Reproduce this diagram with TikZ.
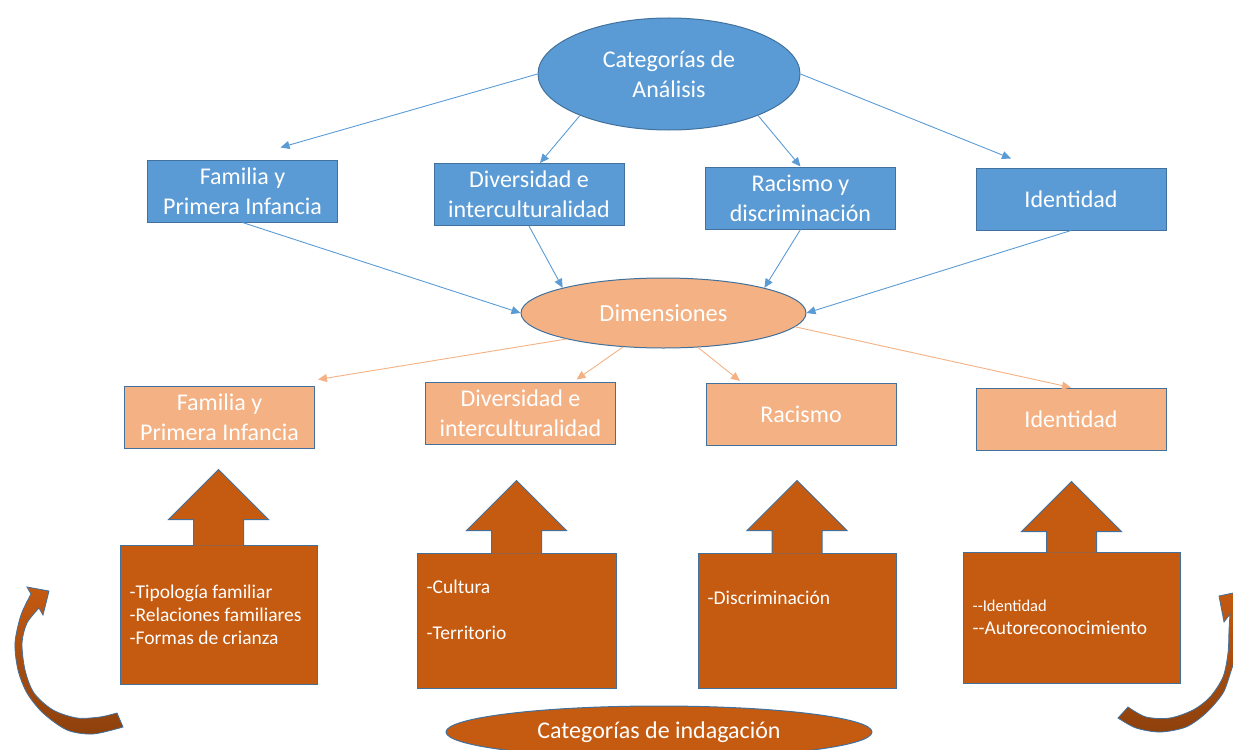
\documentclass[tikz,border=0pt]{standalone}
\usepackage{fontspec}
\setmainfont{Carlito}
\usepackage{xcolor}
\usepackage{tikz}
\usetikzlibrary{shapes.geometric, arrows.meta}
\definecolor{catblue}{HTML}{5B9BD5}
\definecolor{edgeblue}{HTML}{41719C}
\definecolor{dimorange}{HTML}{F4B183}
\definecolor{rustorange}{HTML}{C55A11}
\tikzstyle{catellipse} = [ellipse, minimum width=262pt, minimum height=112pt, inner sep=0pt, fill=catblue, draw=edgeblue, line width=1pt, text=white, align=center, font=\fontsize{24}{30}\selectfont]
\tikzstyle{dimellipse} = [catellipse, fill=dimorange, minimum width=285pt, minimum height=70pt, font=\fontsize{24.5}{30}\selectfont]
\tikzstyle{indellipse} = [catellipse, fill=rustorange, minimum width=426pt, minimum height=52pt]
\tikzstyle{bluebox} = [rectangle, minimum width=190pt, minimum height=62pt, inner sep=0pt, fill=catblue, draw=edgeblue, line width=1pt, text=white, align=center, font=\fontsize{24}{30}\selectfont]
\tikzstyle{orangebox} = [bluebox, fill=dimorange]
\tikzstyle{callbox} = [rectangle, inner sep=0pt, fill=rustorange, draw=edgeblue, line width=1pt]
\tikzstyle{callup} = [fill=rustorange, draw=edgeblue, line width=1pt]
\tikzstyle{calltext} = [anchor=west, align=left, text=white, inner sep=0pt, font=\fontsize{19.5}{23}\selectfont]
\tikzstyle{bluearrow} = [-{Triangle[length=9pt,width=8pt]}, draw=catblue, line width=0.9pt]
\tikzstyle{orangearrow} = [bluearrow, draw=dimorange]
\tikzstyle{bendarrow} = [top color=rustorange, bottom color=rustorange!72!black, draw=edgeblue, line width=0.8pt]

\begin{document}
\begin{tikzpicture}[x=1pt, y=-1pt]
   \clip (0,0) rectangle (1233,749);
   \node (cat) [catellipse] at (669,74) {Categorías de\\Análisis};
   \node (fam1) [bluebox] at (242.5,191) {Familia y\\Primera Infancia};
   \node (div1) [bluebox] at (529,194.5) {Diversidad e\\interculturalidad};
   \node (rac1) [bluebox] at (800.5,198) {Racismo y\\discriminación};
   \node (ide1) [bluebox] at (1071,199) {Identidad};
   \node (dim) [dimellipse] at (663.5,313) {Dimensiones};
   \node (fam2) [orangebox] at (219.5,417) {Familia y\\Primera Infancia};
   \node (div2) [orangebox] at (520.5,413) {Diversidad e\\interculturalidad};
   \node (rac2) [orangebox] at (801,414.5) {Racismo};
   \node (ide2) [orangebox] at (1071,419) {Identidad};
   \node (c1) [callbox, minimum width=197pt, minimum height=139pt] at (218.5,614.5) {};
   \node (c2) [callbox, minimum width=199pt, minimum height=135pt] at (516.5,620.5) {};
   \node (c3) [callbox, minimum width=198pt, minimum height=135pt] at (797,620.5) {};
   \node (c4) [callbox, minimum width=217pt, minimum height=131pt] at (1071.5,617.5) {};
   \foreach \c/\s in {c1/25, c2/22, c3/22, c4/20}
      \filldraw [callup] ([xshift=-25pt,yshift=-1pt]\c.north) -- ++(0,-\s-1) -- ++(-25,0) -- ++(50,-50) -- ++(50,50) -- ++(-25,0) -- ++(0,\s+1);
   \node (t1) [calltext] at ([xshift=10pt]c1.west) {-Tipología familiar\\-Relaciones familiares\\-Formas de crianza};
   \node (t2) [calltext] at ([shift={(10,-11)}]c2.west) {-Cultura\\[23pt]-Territorio};
   \node (t3) [calltext] at ([shift={(10,-22.5)}]c3.west) {-Discriminación};
   \node (t4) [calltext] at ([xshift=10pt]c4.west) {{\fontsize{16.5}{23}\selectfont -\kern0pt-Identidad}\\-\kern0pt-Autoreconocimiento};
   \node (ind) [indellipse] at (659,732) {Categorías de indagación};
   \draw [bluearrow] (cat.west) -- ([shift={(38,-12)}]fam1.north);
   \draw [bluearrow] (cat.205) -- ([xshift=11pt]div1.north);
   \draw [bluearrow] (cat.335) -- (rac1.north);
   \draw [bluearrow] (cat.east) -- ([shift={(-60,-9)}]ide1.north);
   \draw [bluearrow] (fam1.south) -- (dim.west);
   \draw [bluearrow] (div1.south) -- (dim.166);
   \draw [bluearrow] (rac1.south) -- (dim.14);
   \draw [bluearrow] (ide1.south) -- (dim.east);
   \draw [orangearrow] (dim.195) -- ([shift={(3,-6)}]fam2.north east);
   \draw [orangearrow] (dim.220) -- ([shift={(56,-2)}]div2.north);
   \draw [orangearrow] (dim.315) -- ([shift={(-61,-2)}]rac2.north);
   \draw [orangearrow] (dim.354) -- (ide2.north);
   \draw [bendarrow] (49,591) -- (27,587) -- plot[smooth] coordinates {(31,594) (21,615) (15,643) (18,670) (27,693) (43,713) (67,730) (93,734) (123,727)} -- plot[smooth] coordinates {(117,713) (100,717) (77,718) (53,710) (34,693) (25,670) (22,643) (27,623) (39,608)} -- (43,615) -- cycle;
   \draw [bendarrow] (1219,596) -- (1247,590) -- plot[smooth] coordinates {(1241,598) (1240,630) (1236,655) (1231,671) (1223,693) (1206,713) (1186,727) (1160,732) (1136,728) (1118,718)} -- plot[smooth] coordinates {(1128,707) (1146,717) (1170,718) (1193,710) (1210,697) (1223,677) (1228,653) (1229,630) (1230,614)} -- (1224,622) -- cycle;
\end{tikzpicture}
\end{document}
